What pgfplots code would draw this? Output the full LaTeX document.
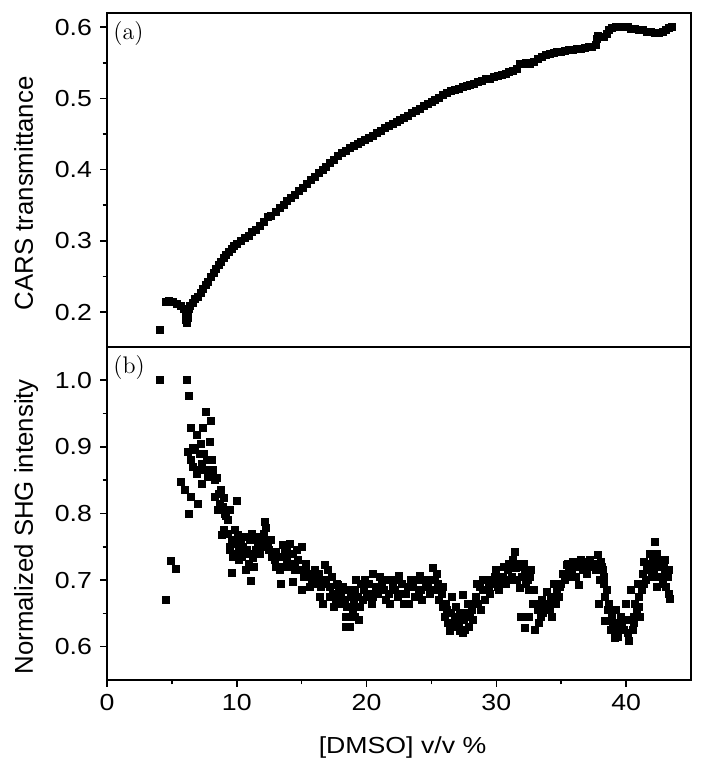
\documentclass[border=0pt]{standalone}
\usepackage{fontspec}
\setsansfont{Liberation Sans}
\usepackage{pgfplots}
\pgfplotsset{compat=1.18}

\pgfplotsset{
  panel/.style={
    scale only axis, width=292pt,
    xmin=0, xmax=45,
    axis line style={line width=0.8pt},
    every tick/.style={black, line width=0.8pt},
    tick align=outside, tick pos=left,
    major tick length=3.5pt, minor tick length=2.2pt,
    minor y tick num=1,
    tick label style={font=\fontsize{11.6}{13}\sffamily, xscale=1.15},
    /pgf/number format/assume math mode=true,
    yticklabel style={/pgf/number format/.cd, fixed, fixed zerofill, precision=1, assume math mode=true},
    % rotated label: local yshift moves it left on the page
    every axis y label/.style={at={(axis description cs:0,0.46)}, rotate=90, anchor=base, yshift=37pt,
      font=\fontsize{12.9}{15}\sffamily},
  },
  pts/.style={only marks, mark=square*, mark size=1.75pt, black},
}
\tikzset{tag/.style={anchor=north west, inner sep=0pt, xshift=3pt, yshift=-4.2pt, font=\fontsize{12}{14}\selectfont}}

\begin{document}
\begin{tikzpicture}
\useasboundingbox (-53.5pt,-44.5pt) rectangle (298.5pt,340pt);

% (b) SHG
\begin{axis}[panel, at={(0,0)}, anchor=south west, height=166.5pt,
  ymin=0.55, ymax=1.05, ytick={0.6,0.7,0.8,0.9,1.0},
  xtick={0,10,20,30,40}, minor x tick num=1,
  ylabel={Normalized SHG intensity},
  xlabel={[DMSO] v/v \%},
  every axis x label/.style={at={(axis description cs:0.506,0)}, anchor=base, yshift=-36.5pt,
    font=\fontsize{11.6}{13}\sffamily, xscale=1.15},
]
\node[tag] at (rel axis cs:0,1) {(b)};
\addplot[pts] table {
x y
4.08 1.0
6.13 1.0
6.33 0.976
4.54 0.670
4.9 0.729
5.3 0.717
5.69 0.848
6.03 0.835
6.33 0.799
6.5 0.825
7.03 0.814
6.44 0.928
6.9 0.918
7.59 0.953
8.0 0.939
7.4 0.928
7.9 0.908
6.26 0.893
6.64 0.898
6.5 0.88
7.15 0.89
7.3 0.875
7.67 0.88
8.05 0.88
8.18 0.865
7.4 0.865
6.9 0.86
7.3 0.845
8.44 0.853
8.3 0.825
8.8 0.835
9.0 0.824
8.9 0.81
8.56 0.805
9.2 0.796
9.46 0.805
10.03 0.819
8.82 0.768
9.6 0.758
9.85 0.775
9.46 0.75
9.72 0.735
9.6 0.711
10.2 0.745
10.1 0.768
10.6 0.74
10.74 0.715
11.05 0.699
11.26 0.733
11.38 0.765
11.64 0.755
12.0 0.763
12.28 0.778
12.2 0.788
12.4 0.75
12.67 0.735
13.05 0.742
13.3 0.715
13.4 0.695
13.56 0.753
13.8 0.735
14.1 0.755
14.2 0.725
14.33 0.698
14.46 0.715
14.7 0.73
15.0 0.75
15.0 0.685
15.1 0.715
15.36 0.72
15.74 0.705
16.0 0.715
16.1 0.695
16.4 0.675
16.8 0.723
17.0 0.715
16.64 0.665
17.15 0.675
17.5 0.66
17.8 0.693
18.05 0.68
18.3 0.67
18.44 0.645
18.7 0.63
18.95 0.655
19.2 0.70
19.33 0.675
17.9 0.67
18.4 0.63
18.7 0.645
19.1 0.685
19.7 0.67
19.6 0.695
20.2 0.695
20.5 0.71
20.5 0.675
21.0 0.705
21.3 0.685
21.5 0.67
21.9 0.70
22.2 0.685
22.5 0.707
22.7 0.695
22.9 0.665
23.2 0.69
23.4 0.70
23.7 0.675
24.1 0.707
24.2 0.685
24.6 0.695
24.85 0.68
25.1 0.718
25.4 0.71
25.5 0.695
25.6 0.67
25.9 0.66
26.0 0.645
26.3 0.635
26.4 0.623
26.6 0.675
26.8 0.64
27.0 0.645
27.2 0.623
27.4 0.62
27.4 0.678
27.7 0.65
27.8 0.665
28.2 0.64
28.4 0.675
28.5 0.695
28.8 0.655
28.95 0.70
29.3 0.685
29.6 0.70
30.0 0.715
30.1 0.69
30.5 0.705
30.9 0.715
31.0 0.725
31.4 0.743
31.5 0.718
31.9 0.72
32.2 0.713
31.8 0.688
32.3 0.695
32.5 0.685
32.7 0.715
31.9 0.645
32.2 0.628
32.5 0.645
32.8 0.665
33.0 0.625
33.2 0.655
33.4 0.645
33.5 0.67
33.9 0.683
34.1 0.655
34.4 0.695
34.6 0.665
34.8 0.675
35.1 0.71
35.4 0.723
35.6 0.715
35.9 0.728
36.3 0.72
36.4 0.693
36.7 0.715
36.9 0.728
37.3 0.72
37.7 0.715
37.8 0.738
38.05 0.728
38.2 0.715
37.9 0.665
38.3 0.695
38.4 0.675
38.6 0.655
38.4 0.638
38.8 0.625
39.1 0.613
39.2 0.655
39.35 0.635
39.6 0.645
39.85 0.625
40.0 0.665
40.2 0.608
40.4 0.685
40.6 0.645
40.7 0.665
41.0 0.675
41.1 0.645
40.9 0.695
41.3 0.71
41.4 0.728
41.5 0.70
41.8 0.74
41.9 0.725
42.2 0.758
42.15 0.715
42.5 0.73
42.6 0.705
42.9 0.72
43.2 0.705
43.3 0.68
43.4 0.672
42.4 0.69
42.8 0.695
9.3 0.77
9.5 0.745
9.7 0.76
9.9 0.74
10.0 0.755
10.2 0.73
10.3 0.76
10.4 0.735
10.5 0.75
10.8 0.745
10.9 0.725
11.0 0.76
11.1 0.74
11.3 0.72
11.5 0.745
11.7 0.765
11.8 0.74
12.0 0.75
12.1 0.77
12.3 0.76
12.5 0.745
12.8 0.74
12.9 0.73
13.2 0.735
13.5 0.72
13.7 0.745
13.9 0.75
14.0 0.72
14.3 0.74
14.5 0.725
14.8 0.715
15.2 0.705
15.5 0.71
15.8 0.695
16.2 0.70
16.5 0.69
16.9 0.695
17.2 0.69
17.4 0.68
17.6 0.67
17.9 0.685
18.1 0.665
18.5 0.66
18.8 0.675
19.0 0.665
19.4 0.64
19.8 0.685
20.0 0.675
20.3 0.68
20.7 0.69
21.2 0.695
21.7 0.68
22.0 0.69
22.4 0.675
23.0 0.68
23.6 0.69
24.0 0.68
24.4 0.70
24.7 0.69
25.2 0.685
25.3 0.70
25.8 0.68
26.1 0.665
26.5 0.65
26.9 0.66
27.1 0.635
27.5 0.64
27.9 0.63
28.1 0.655
28.6 0.665
29.0 0.685
29.4 0.69
29.8 0.695
30.3 0.70
30.7 0.695
31.2 0.705
31.6 0.70
32.0 0.705
32.4 0.70
32.9 0.685
33.1 0.665
33.7 0.66
34.2 0.675
34.9 0.69
35.3 0.70
35.8 0.71
36.1 0.705
36.6 0.72
37.0 0.71
37.5 0.725
38.0 0.70
38.5 0.685
38.9 0.645
39.3 0.625
39.7 0.63
40.3 0.64
40.5 0.625
40.8 0.655
41.2 0.685
41.6 0.715
42.0 0.705
42.3 0.725
42.7 0.72
43.0 0.71
43.1 0.69
6.6 0.87
6.8 0.895
7.1 0.865
7.2 0.905
7.5 0.89
7.7 0.865
7.8 0.855
8.1 0.86
8.3 0.85
8.6 0.83
8.7 0.815
9.1 0.80
9.3 0.79
9.0 0.775
10.6 0.765
11.2 0.77
11.9 0.755
12.6 0.76
13.0 0.72
13.9 0.73
14.6 0.745
15.3 0.725
15.6 0.69
16.3 0.71
16.7 0.70
17.3 0.705
17.7 0.695
18.2 0.69
18.6 0.685
19.1 0.645
19.5 0.66
19.9 0.70
20.4 0.665
20.9 0.68
21.4 0.70
21.8 0.665
22.3 0.70
22.8 0.68
23.3 0.665
23.8 0.70
24.3 0.67
24.9 0.70
25.5 0.685
25.9 0.69
26.2 0.655
26.7 0.63
27.2 0.65
27.6 0.625
28.0 0.645
28.3 0.665
28.7 0.69
29.1 0.67
29.5 0.68
29.9 0.705
30.2 0.685
30.6 0.72
31.0 0.70
31.3 0.73
31.7 0.725
32.1 0.725
32.6 0.705
33.3 0.635
33.6 0.65
34.0 0.665
34.3 0.645
34.7 0.685
35.0 0.695
35.5 0.725
35.7 0.705
36.0 0.72
36.5 0.73
36.8 0.725
37.2 0.73
37.6 0.72
38.1 0.72
38.3 0.705
38.7 0.665
39.0 0.635
39.4 0.615
39.8 0.64
40.1 0.62
40.6 0.635
41.0 0.66
41.4 0.695
41.7 0.72
42.1 0.735
42.4 0.74
42.6 0.725
43.0 0.73
43.3 0.715
};
\end{axis}

% (a) CARS
\begin{axis}[panel, at={(0,166.5pt)}, anchor=south west, height=167pt,
  ymin=0.151, ymax=0.62, ytick={0.2,0.3,0.4,0.5,0.6},
  xtick=\empty,
  ylabel={CARS transmittance},
]
\node[tag] at (rel axis cs:0,1) {(a)};
\addplot[pts] table {
x y
4.08 0.175
4.5 0.214
4.8 0.216
5.1 0.215
5.4 0.212
5.7 0.208
5.95 0.205
6.05 0.196
6.1 0.189
6.15 0.185
6.2 0.192
6.25 0.199
6.3 0.204
6.4 0.208
6.6 0.213
6.8 0.218
7.0 0.222
7.2 0.227
7.4 0.232
7.6 0.238
7.8 0.243
8.0 0.249
8.2 0.255
8.4 0.261
8.6 0.266
8.8 0.271
9.0 0.276
9.2 0.281
9.4 0.285
9.6 0.289
9.8 0.293
10.0 0.296
10.3 0.300
10.6 0.304
10.9 0.307
11.2 0.312
11.5 0.316
11.8 0.321
12.1 0.327
12.4 0.333
12.6 0.335
13.0 0.341
13.3 0.346
13.6 0.351
13.9 0.356
14.2 0.360
14.5 0.365
14.8 0.370
15.1 0.375
15.4 0.380
15.7 0.385
16.0 0.390
16.3 0.395
16.6 0.400
16.9 0.404
17.2 0.409
17.5 0.414
17.8 0.419
18.1 0.423
18.4 0.427
18.7 0.430
19.0 0.433
19.3 0.436
19.6 0.439
19.9 0.442
20.2 0.445
20.5 0.448
20.8 0.451
21.1 0.455
21.4 0.458
21.7 0.461
22.0 0.464
22.3 0.467
22.6 0.470
22.9 0.473
23.2 0.476
23.5 0.479
23.8 0.482
24.1 0.485
24.4 0.489
24.7 0.492
25.0 0.495
25.3 0.498
25.6 0.501
25.9 0.505
26.2 0.508
26.5 0.510
26.8 0.512
27.1 0.514
27.4 0.516
27.7 0.518
28.0 0.519
28.3 0.521
28.6 0.523
28.9 0.525
29.2 0.527
29.5 0.528
29.8 0.530
30.1 0.531
30.4 0.533
30.7 0.535
31.0 0.537
31.3 0.539
31.6 0.542
31.8 0.548
32.0 0.549
32.3 0.550
32.6 0.549
32.9 0.552
33.2 0.556
33.5 0.559
33.8 0.561
34.1 0.563
34.4 0.564
34.7 0.565
35.0 0.566
35.3 0.567
35.6 0.568
35.9 0.568
36.2 0.569
36.5 0.570
36.8 0.571
37.1 0.572
37.4 0.573
37.7 0.575
37.75 0.584
37.8 0.588
38.1 0.587
38.3 0.586
38.5 0.590
38.7 0.596
38.9 0.599
39.2 0.600
39.5 0.601
39.8 0.601
40.1 0.600
40.4 0.598
40.7 0.597
41.0 0.596
41.3 0.596
41.6 0.594
41.9 0.593
42.2 0.592
42.5 0.592
42.8 0.593
43.1 0.596
43.3 0.599
43.5 0.601
};
\end{axis}
\end{tikzpicture}
\end{document}
